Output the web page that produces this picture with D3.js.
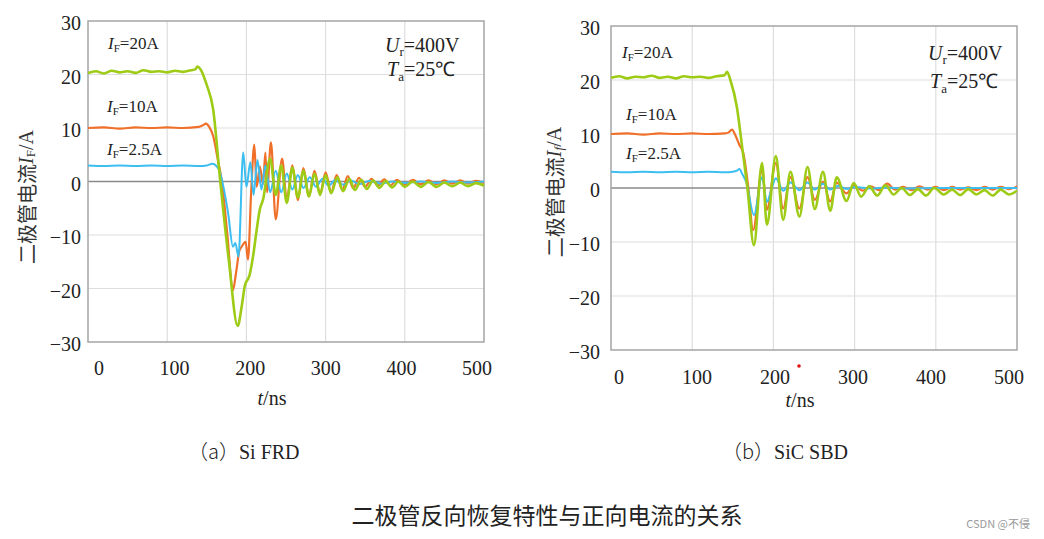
<!DOCTYPE html>
<html><head><meta charset="utf-8">
<script src="https://cdn.jsdelivr.net/npm/d3@7"></script>
<style>body{margin:0;background:#fff;} svg{display:block}</style>
</head><body>
<svg id="c" width="1044" height="539"></svg>
<script>
// ---------------- data ----------------
const xTicks = [0, 100, 200, 300, 400, 500];
const yTicks = [-30, -20, -10, 0, 10, 20, 30];
const seriesNames = ["IF=2.5A", "IF=10A", "IF=20A"];

// (a) Si FRD
const siGreenT = [0,10,20,30,40,50,60,70,80,90,100,110,120,130,136,138,142,150,158,167,178,189,194,198,204,209,213,217,221,230,237,244,251,258,265,272,279,286,293,300,307,315,322,330,337,345,352,360,368,376,384,392,400,410,420,430,440,450,460,470,480,490,500];
const siGreenI = [20.3,20.6,20.2,20.7,20.4,20.6,20.3,20.8,20.5,20.6,20.4,20.7,20.5,20.8,21.0,21.5,21.0,18.0,13.5,0.0,-15.0,-27.0,-23.4,-19.5,-17.5,-13.4,-9.0,-5.2,-3.4,4.3,-2.5,3.0,-4.0,2.6,-3.0,2.0,-2.8,1.5,-2.5,1.2,-2.2,0.8,-1.8,0.5,-1.6,0.3,-1.4,0.2,-1.2,0.1,-1.1,0.0,-1.0,0.0,-1.0,-0.1,-1.0,-0.2,-0.9,-0.2,-0.9,-0.3,-0.8];
const siOrangeT = [0,20,40,60,80,100,120,140,145,149,153,158,164,169,176,183,187,191,194,199,202,206,210,213,217,221,224,226,231,237,245,251,258,265,272,279,286,293,300,307,314,321,328,335,342,350,358,366,374,382,390,400,410,420,430,440,450,460,470,480,490,500];
const siOrangeI = [10.0,10.1,9.9,10.1,10.0,10.1,10.0,10.2,10.5,10.8,10.2,8.5,4.0,0.0,-10.0,-20.3,-17.0,-13.0,-12.2,-11.3,-14.6,-2.0,6.9,-1.0,2.8,-0.5,5.4,-2.0,7.3,-7.1,4.3,-3.4,3.0,-3.5,2.5,-2.8,2.0,-2.3,1.7,-2.0,1.2,-1.6,1.0,-1.3,0.7,-1.0,0.5,-0.8,0.4,-0.7,0.3,-0.6,0.3,-0.5,0.2,-0.5,0.2,-0.4,0.2,-0.4,0.1,-0.3];
const siCyanT = [0,20,40,60,80,100,120,140,150,157,162,166,171,177,183,186,190,196,200,205,209,214,219,224,230,237,244,251,258,265,272,280,288,296,304,312,322,332,342,355,370,385,400,420,440,460,480,500];
const siCyanI = [3.0,2.9,3.0,2.9,3.0,2.9,3.0,2.9,3.0,3.3,2.9,2.0,-1.0,-6.0,-12.2,-11.5,-14.0,5.4,-1.0,3.6,-2.5,4.0,-1.5,3.0,-2.0,2.0,-2.0,1.5,-1.5,1.2,-1.2,0.8,-1.0,0.5,-0.8,0.3,-0.6,0.2,-0.5,0.1,-0.4,0.0,-0.3,0.0,-0.3,0.0,-0.2,0.0];

// (b) SiC SBD
const sicGreenT = [0,10,20,30,40,50,60,70,80,90,100,110,120,130,140,143,147,155,162,168,176,186,192,203,212,221,232,242,251,261,270,278,290,299,308,318,328,338,348,358,368,378,388,398,410,420,430,440,450,460,470,480,490,500];
const sicGreenI = [20.4,20.7,20.3,20.6,20.5,20.8,20.4,20.6,20.3,20.7,20.5,20.6,20.4,20.7,20.9,21.5,20.0,15.0,7.0,0.0,-10.6,4.6,-6.8,5.9,-5.9,3.0,-5.3,3.9,-3.9,3.0,-4.2,2.0,-2.4,0.9,-1.6,0.3,-1.4,0.5,-1.2,0.0,-1.3,-0.2,-1.4,0.0,-1.2,-0.3,-1.3,-0.2,-1.2,-0.4,-1.4,-0.3,-1.2,-0.5];
const sicOrangeT = [0,20,40,60,80,100,120,140,145,149,153,158,163,169,175,186,192,203,212,221,232,242,251,261,270,278,290,299,310,320,330,340,350,360,370,380,390,400,410,420,430,440,450,460,470,480,490,500];
const sicOrangeI = [10.0,10.1,9.9,10.1,10.0,10.1,10.0,10.1,10.3,10.8,9.8,8.0,6.4,0.2,-7.8,3.4,-4.0,4.6,-3.8,2.0,-3.8,2.0,-2.2,1.2,-2.5,1.0,-1.0,0.5,-0.5,0.3,-0.4,0.8,-0.3,0.2,-0.4,0.3,-0.3,0.2,-0.4,0.2,-0.3,0.1,-0.4,0.2,-0.3,0.2,-0.2,0.3];
const sicCyanT = [0,20,40,60,80,100,120,140,150,155,158,162,167,176,186,192,198,203,212,221,232,242,251,261,270,280,290,300,320,340,360,400,450,500];
const sicCyanI = [3.0,2.9,3.0,2.9,3.0,2.9,3.0,2.9,3.0,3.2,3.5,2.5,0.9,-5.0,2.0,-2.6,0.0,1.8,-0.5,1.0,-0.4,1.0,-0.3,0.8,-0.3,0.4,-0.2,0.2,-0.1,0.1,-0.1,0.0,0.0,0.0];

const colors = {cyan: "#3dbef0", orange: "#f0702a", green: "#9dcb16"};

// ---------------- drawing ----------------
const svg = d3.select("#c");
const serif = "'Liberation Serif','Times New Roman',serif";
const cjk = "'Noto Sans CJK SC','Noto Sans',sans-serif";

function panel(cfg) {
  const x = d3.scaleLinear().domain([0, 500]).range(cfg.xr);
  const xl = d3.scaleLinear().domain([0, 500]).range(cfg.xlab);
  const y = d3.scaleLinear().domain([-30, 30]).range(cfg.yr);
  const g = svg.append("g");

  // grid
  g.selectAll(".vg").data(xTicks.slice(1, -1)).join("line")
    .attr("x1", d => x(d)).attr("x2", d => x(d))
    .attr("y1", y(30)).attr("y2", y(-30))
    .attr("stroke", "#dedede").attr("stroke-width", 1.2);
  g.selectAll(".hg").data(yTicks.filter(d => d !== 0 && Math.abs(d) !== 30)).join("line")
    .attr("x1", x(0)).attr("x2", x(500))
    .attr("y1", d => y(d)).attr("y2", d => y(d))
    .attr("stroke", "#dedede").attr("stroke-width", 1.2);
  g.append("line").attr("x1", x(0)).attr("x2", x(500)).attr("y1", y(0)).attr("y2", y(0))
    .attr("stroke", "#8a8a8a").attr("stroke-width", 1.3);
  g.append("rect").attr("x", x(0)).attr("y", y(30))
    .attr("width", x(500) - x(0)).attr("height", y(-30) - y(30))
    .attr("fill", "none").attr("stroke", "#a5a5a5").attr("stroke-width", 1.5);

  // series
  const line = d3.line().x(d => x(d[0])).y(d => y(d[1])).curve(d3.curveMonotoneX);
  const ser = [
    {t: cfg.orangeT, v: cfg.orangeI, c: colors.orange, w: 2.2},
    {t: cfg.cyanT, v: cfg.cyanI, c: colors.cyan, w: 2.0},
    {t: cfg.greenT, v: cfg.greenI, c: colors.green, w: 2.6}
  ];
  ser.forEach(s => {
    g.append("path").datum(s.t.map((t, k) => [t, s.v[k]]))
      .attr("d", line).attr("fill", "none").attr("stroke", s.c)
      .attr("stroke-width", s.w).attr("stroke-linejoin", "round");
  });

  // tick labels
  g.selectAll(".xl").data(xTicks).join("text")
    .attr("x", d => xl(d)).attr("y", cfg.xlabY)
    .attr("text-anchor", "middle").attr("dominant-baseline", "central")
    .attr("font-family", serif).attr("font-size", 20).attr("fill", "#222")
    .text(d => d);
  g.selectAll(".yl").data(yTicks).join("text")
    .attr("x", cfg.ylabX).attr("y", d => y(d) + 2)
    .attr("text-anchor", "end").attr("dominant-baseline", "central")
    .attr("font-family", serif).attr("font-size", 20).attr("fill", "#222")
    .text(d => d < 0 ? "\u2212" + Math.abs(d) : d);

  // x title
  const xt = g.append("text").attr("x", cfg.xTitle[0]).attr("y", cfg.xTitle[1])
    .attr("text-anchor", "middle").attr("font-family", serif).attr("font-size", 20).attr("fill", "#222");
  xt.append("tspan").attr("font-style", "italic").text("t");
  xt.append("tspan").text("/ns");

  // y title
  const yt = g.append("text")
    .attr("transform", `translate(${cfg.yTitle[0]},${cfg.yTitle[1]}) rotate(-90)`)
    .attr("text-anchor", "middle").attr("dominant-baseline", "central")
    .attr("font-size", 20).attr("fill", "#333");
  yt.append("tspan").attr("font-family", cjk).text("二极管电流");
  yt.append("tspan").attr("font-family", serif).attr("font-style", "italic").text("I");
  yt.append("tspan").attr("font-family", serif).attr("font-style", cfg.subItalic ? "italic" : "normal")
    .attr("font-size", 13).attr("dy", 4).text(cfg.sub);
  yt.append("tspan").attr("font-family", serif).attr("dy", -4).text("/A");

  // series annotations
  cfg.ann.forEach(a => {
    const t = g.append("text").attr("x", a[0]).attr("y", a[1])
      .attr("font-family", serif).attr("font-size", 17).attr("fill", "#222");
    t.append("tspan").attr("font-style", "italic").text("I");
    t.append("tspan").attr("font-size", 11).attr("dy", 3).text("F");
    t.append("tspan").attr("dy", -3).text(a[2]);
  });

  // conditions
  const u = g.append("text").attr("x", cfg.cond[0]).attr("y", cfg.cond[1])
    .attr("font-family", serif).attr("font-size", 20).attr("fill", "#222");
  u.append("tspan").attr("font-style", "italic").text("U");
  u.append("tspan").attr("font-size", 13).attr("dy", 4).text("r");
  u.append("tspan").attr("dy", -4).text("=400V");
  const ta = g.append("text").attr("x", cfg.cond[2]).attr("y", cfg.cond[3])
    .attr("font-family", serif).attr("font-size", 20).attr("fill", "#222");
  ta.append("tspan").attr("font-style", "italic").text("T");
  ta.append("tspan").attr("font-size", 13).attr("dy", 5).text("a");
  ta.append("tspan").attr("dy", -5).text("=25\u2103");

  // caption
  const cp = g.append("text").attr("x", cfg.cap[0]).attr("y", cfg.cap[1])
    .attr("font-size", 20).attr("fill", "#222");
  cp.append("tspan").attr("font-family", cjk).attr("font-weight", 300).text(cfg.cap[2]);
  cp.append("tspan").attr("font-family", serif).text(cfg.cap[3]);
  return {x, y};
}

panel({
  xr: [88, 484], xlab: [99, 477], yr: [342, 21], xlabY: 368, ylabX: 81,
  xTitle: [272, 405], yTitle: [26, 197], sub: "F", subItalic: false,
  greenT: siGreenT, greenI: siGreenI, orangeT: siOrangeT, orangeI: siOrangeI, cyanT: siCyanT, cyanI: siCyanI,
  ann: [[108, 49, "=20A"], [107, 112, "=10A"], [107, 155, "=2.5A"]],
  cond: [385, 52, 387, 76],
  cap: [188, 459, "（a）", "Si FRD"]
});
panel({
  xr: [611, 1017], xlab: [619, 1009], yr: [350, 26], xlabY: 377, ylabX: 600,
  xTitle: [800, 407], yTitle: [554, 192], sub: "f", subItalic: true,
  greenT: sicGreenT, greenI: sicGreenI, orangeT: sicOrangeT, orangeI: sicOrangeI, cyanT: sicCyanT, cyanI: sicCyanI,
  ann: [[622, 58, "=20A"], [626, 120, "=10A"], [626, 159, "=2.5A"]],
  cond: [928, 60, 930, 88],
  cap: [722, 459, "（b）", "SiC SBD"]
});

// small red mark in panel (b)
svg.append("circle").attr("cx", 799).attr("cy", 366).attr("r", 1.8).attr("fill", "#e01010");

// figure title
svg.append("text").attr("x", 547).attr("y", 524).attr("text-anchor", "middle")
  .attr("font-family", cjk).attr("font-size", 23).attr("fill", "#222")
  .text("二极管反向恢复特性与正向电流的关系");

// watermark
svg.append("text").attr("x", 1030).attr("y", 528).attr("text-anchor", "end")
  .attr("font-family", cjk).attr("font-size", 11).attr("fill", "#9a9a9a")
  .text("CSDN @不侵");
</script>
</body></html>
